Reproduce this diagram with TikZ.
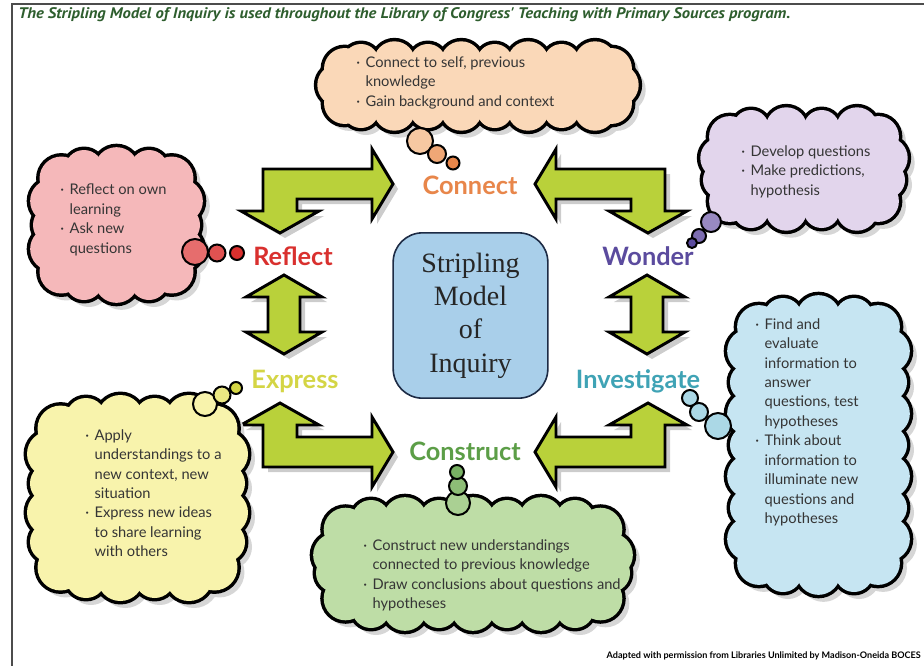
\documentclass[tikz,border=0pt]{standalone}
\usepackage{fontspec}
\usepackage{tikz}
\setmainfont{Lato}
\newfontfamily\titlefont[FakeStretch=1.08]{PT Sans}
\newfontfamily\boxfont{Liberation Serif}
\definecolor{titlegreen}{HTML}{2E5E2E}
\definecolor{arrowgreen}{HTML}{B9D13A}
\definecolor{boxblue}{HTML}{A9CFEA}
\definecolor{boxrim}{HTML}{1D2B45}
\definecolor{cloudtext}{HTML}{353535}
\definecolor{cConnect}{HTML}{E8864A}
\definecolor{cReflect}{HTML}{D9302E}
\definecolor{cWonder}{HTML}{5B4B9E}
\definecolor{cExpress}{HTML}{D4D545}
\definecolor{cInvest}{HTML}{3FA3B5}
\definecolor{cConstruct}{HTML}{5C9E47}
\definecolor{fConnect}{HTML}{FAD8B8}
\definecolor{fWonder}{HTML}{E2D5EC}
\definecolor{fReflect}{HTML}{F5B8BA}
\definecolor{fExpress}{HTML}{F8F3AC}
\definecolor{fConstruct}{HTML}{BEDDA6}
\definecolor{fInvest}{HTML}{C6E5F2}
\tikzset{
  frameline/.style   = {draw=black!70, line width=1.1pt},
  titletext/.style   = {font=\titlefont\bfseries\itshape\fontsize{11.5}{13}\selectfont,
                        text=titlegreen, inner sep=0pt},
  credittext/.style  = {font=\bfseries\fontsize{6.8}{8}\selectfont, inner sep=0pt},
  stagelabel/.style  = {font=\bfseries\fontsize{19}{22}\selectfont, inner sep=0pt},
  centerbox/.style   = {rounded corners=22pt, draw=boxrim, fill=boxblue, line width=1.2pt,
                        minimum width=116pt, minimum height=124pt, align=center,
                        font=\boxfont\fontsize{21}{25}\selectfont, text=black!85},
  cloudrim/.style    = {draw=black, line width=5.2pt},
  cloudshade/.style  = {fill=black!16},
  thoughttext/.style = {font=\fontsize{11}{14.6}\selectfont, align=left,
                        anchor=north west, inner sep=0pt, text=cloudtext},
  bubble/.style      = {draw=black, line width=1.5pt},
  arrowbody/.style   = {fill=arrowgreen, draw=black, line width=2.2pt, line join=miter},
  arrowshade/.style  = {fill=black, opacity=0.2},
}
\newcommand\bul{\makebox[7pt][l]{·}}
\newcommand\ind{\hspace*{7pt}}
\newcommand\bentpath{(-201,-149) -- (-92,-149) -- (-92,-169) -- (-71,-134) -- (-92,-99)
  -- (-92,-119) -- (-167,-119) -- (-167,-107) -- (-145,-107) -- (-184,-85)
  -- (-223,-107) -- (-201,-107) -- cycle}
\newcommand\vertpath{(0,275) -- (38,297) -- (16,297) -- (16,332) -- (38,332) -- (0,354)
  -- (-38,332) -- (-16,332) -- (-16,297) -- (-38,297) -- cycle}
% puffs round a rounded rectangle: cx cy a b c nx ny code(\px,\py,\pk)
\newcommand\puffloop[8]{%
  \foreach \i in {0,...,#6}{%
    \pgfmathsetmacro\pk{mod(\i,2)}%
    \pgfmathsetmacro\px{#1-(#3-#5)+2*(#3-#5)*\i/#6}%
    \pgfmathsetmacro\py{#2-#4}#8%
    \pgfmathsetmacro\py{#2+#4}#8}%
  \foreach \i in {0,...,#7}{%
    \pgfmathsetmacro\pk{mod(\i+1,2)}%
    \pgfmathsetmacro\py{#2-(#4-#5)+2*(#4-#5)*\i/#7}%
    \pgfmathsetmacro\px{#1-#3}#8%
    \pgfmathsetmacro\px{#1+#3}#8}%
  \foreach \sx/\sy in {-1/-1, 1/-1, -1/1, 1/1}{%
    \def\pk{1}%
    \pgfmathsetmacro\px{#1+\sx*(#3-0.293*#5)}%
    \pgfmathsetmacro\py{#2+\sy*(#4-0.293*#5)}#8}}
% cx cy a b c r nx ny colour
\newcommand\thoughtcloud[9]{%
  \begin{scope}[shift={(5,5)}]
    \puffloop{#1}{#2}{#3}{#4}{#5}{#7}{#8}{\fill[cloudshade] (\px,\py) circle[radius=#6*(1+0.15*\pk)+2];}
    \fill[cloudshade] (#1-#3,#2-#4) rectangle (#1+#3,#2+#4);
  \end{scope}
  \puffloop{#1}{#2}{#3}{#4}{#5}{#7}{#8}{\draw[cloudrim] (\px,\py) circle[radius=#6*(1+0.15*\pk)];}
  \puffloop{#1}{#2}{#3}{#4}{#5}{#7}{#8}{\fill[#9] (\px,\py) circle[radius=#6*(1+0.15*\pk)];}
  \fill[#9] (#1-#3,#2-#4+#5) rectangle (#1+#3,#2+#4-#5);
  \fill[#9] (#1-#3+#5,#2-#4) rectangle (#1+#3-#5,#2+#4);
  \foreach \sx/\sy in {-1/-1, 1/-1, -1/1, 1/1}
    {\fill[#9] (#1+\sx*#3-\sx*#5, #2+\sy*#4-\sy*#5) circle[radius=#5];}}

\begin{document}
\begin{tikzpicture}[x=0.75pt, y=-0.75pt]
  \useasboundingbox[fill=white] (0,0) rectangle (924,665);
  \clip (0,0) rectangle (924,665);
  \draw[frameline] (12,700) -- (12,4) -- (940,4);
  \node[titletext, anchor=base west] (title) at (18,18)
    {The Stripling Model of Inquiry is used throughout the Library of Congress' Teaching with Primary Sources program.};
  % arrows between the stages
  \foreach \sx/\sy in {1/1, -1/1, 1/-1, -1/-1}{
    \fill[arrowshade, shift={(469,323)}, xscale=\sx, yscale=\sy] \bentpath;
    \draw[arrowbody, shift={(464,318)}, xscale=\sx, yscale=\sy] \bentpath;
  }
  \foreach \cx in {284, 647}{
    \fill[arrowshade, shift={(\cx+5,5)}] \vertpath;
    \draw[arrowbody, shift={(\cx,0)}] \vertpath;
  }
  \node[centerbox] (model) at (470.5,315.5) {Stripling\\Model\\of\\Inquiry};
  % thought clouds
  \thoughtcloud{478}{86}{140}{24}{23}{18}{7}{1}{fConnect}
  \thoughtcloud{804}{169}{83}{41}{30}{18}{3}{1}{fWonder}
  \thoughtcloud{116.5}{225}{64.5}{56}{32}{19}{2}{2}{fReflect}
  \thoughtcloud{137.5}{498}{87.5}{80}{36}{20}{3}{3}{fExpress}
  \thoughtcloud{473}{564}{138}{45}{36}{19}{6}{1}{fConstruct}
  \thoughtcloud{818.5}{445}{69.5}{128}{34}{19}{2}{6}{fInvest}
  % bubbles
  \filldraw[bubble, fill=fConnect!80!cConnect] (420,141) circle[radius=13];
  \filldraw[bubble, fill=fConnect!40!cConnect] (437,154) circle[radius=9];
  \filldraw[bubble, fill=cConnect] (453,163) circle[radius=6.5];
  \filldraw[bubble, fill=fWonder!45!cWonder] (711,222) circle[radius=10];
  \filldraw[bubble, fill=fWonder!25!cWonder] (699,236) circle[radius=7];
  \filldraw[bubble, fill=cWonder] (692,243) circle[radius=5];
  \filldraw[bubble, fill=fReflect!45!cReflect] (195,252) circle[radius=13];
  \filldraw[bubble, fill=fReflect!25!cReflect] (217,253) circle[radius=8.5];
  \filldraw[bubble, fill=cReflect] (237,253) circle[radius=7];
  \filldraw[bubble, fill=fExpress] (205,404) circle[radius=12];
  \filldraw[bubble, fill=fExpress!60!cExpress] (222,395) circle[radius=8.5];
  \filldraw[bubble, fill=cExpress] (236,388) circle[radius=6];
  \filldraw[bubble, fill=fConstruct!80!cConstruct] (458,503) circle[radius=12];
  \filldraw[bubble, fill=fConstruct!50!cConstruct] (458,486) circle[radius=9];
  \filldraw[bubble, fill=fConstruct!30!cConstruct] (457,472) circle[radius=7];
  \filldraw[bubble, fill=fInvest!80!cInvest] (690,398) circle[radius=8];
  \filldraw[bubble, fill=fInvest!80!cInvest] (699,412) circle[radius=9];
  \filldraw[bubble, fill=fInvest!80!cInvest] (718,426) circle[radius=13];
  % cloud texts
  \node[thoughttext] (textC) at (356,56)
    {\bul Connect to self, previous\\\ind knowledge\\\bul Gain background and context};
  \node[thoughttext] (textW) at (741,145)
    {\bul Develop questions\\\bul Make predictions,\\\ind hypothesis};
  \node[thoughttext] (textR) at (60,184)
    {\bul Reflect on own\\\ind learning\\\bul Ask new\\\ind questions};
  \node[thoughttext] (textE) at (85,429)
    {\bul Apply\\\ind understandings to a\\\ind new context, new\\\ind situation\\
     \bul Express new ideas\\\ind to share learning\\\ind with others};
  \node[thoughttext] (textK) at (363,539)
    {\bul Construct new understandings\\\ind connected to previous knowledge\\
     \bul Draw conclusions about questions and\\\ind hypotheses};
  \node[thoughttext] (textI) at (755,318)
    {\bul Find and\\\ind evaluate\\\ind information to\\\ind answer\\\ind questions, test\\
     \ind hypotheses\\\bul Think about\\\ind information to\\\ind illuminate new\\
     \ind questions and\\\ind hypotheses};
  % stage labels
  \node[stagelabel, text=cConnect] (connect) at (470,185) {Connect};
  \node[stagelabel, text=cReflect] (reflect) at (293,256) {Reflect};
  \node[stagelabel, text=cWonder] (wonder) at (648,256) {Wonder};
  \node[stagelabel, text=cExpress] (express) at (295,381) {Express};
  \node[stagelabel, text=cInvest] (investigate) at (638,381) {Investigate};
  \node[stagelabel, text=cConstruct] (construct) at (465,451) {Construct};
  \node[credittext, anchor=base east] (credit) at (921,658)
    {Adapted with permission from Libraries Unlimited by Madison-Oneida BOCES};
\end{tikzpicture}
\end{document}
